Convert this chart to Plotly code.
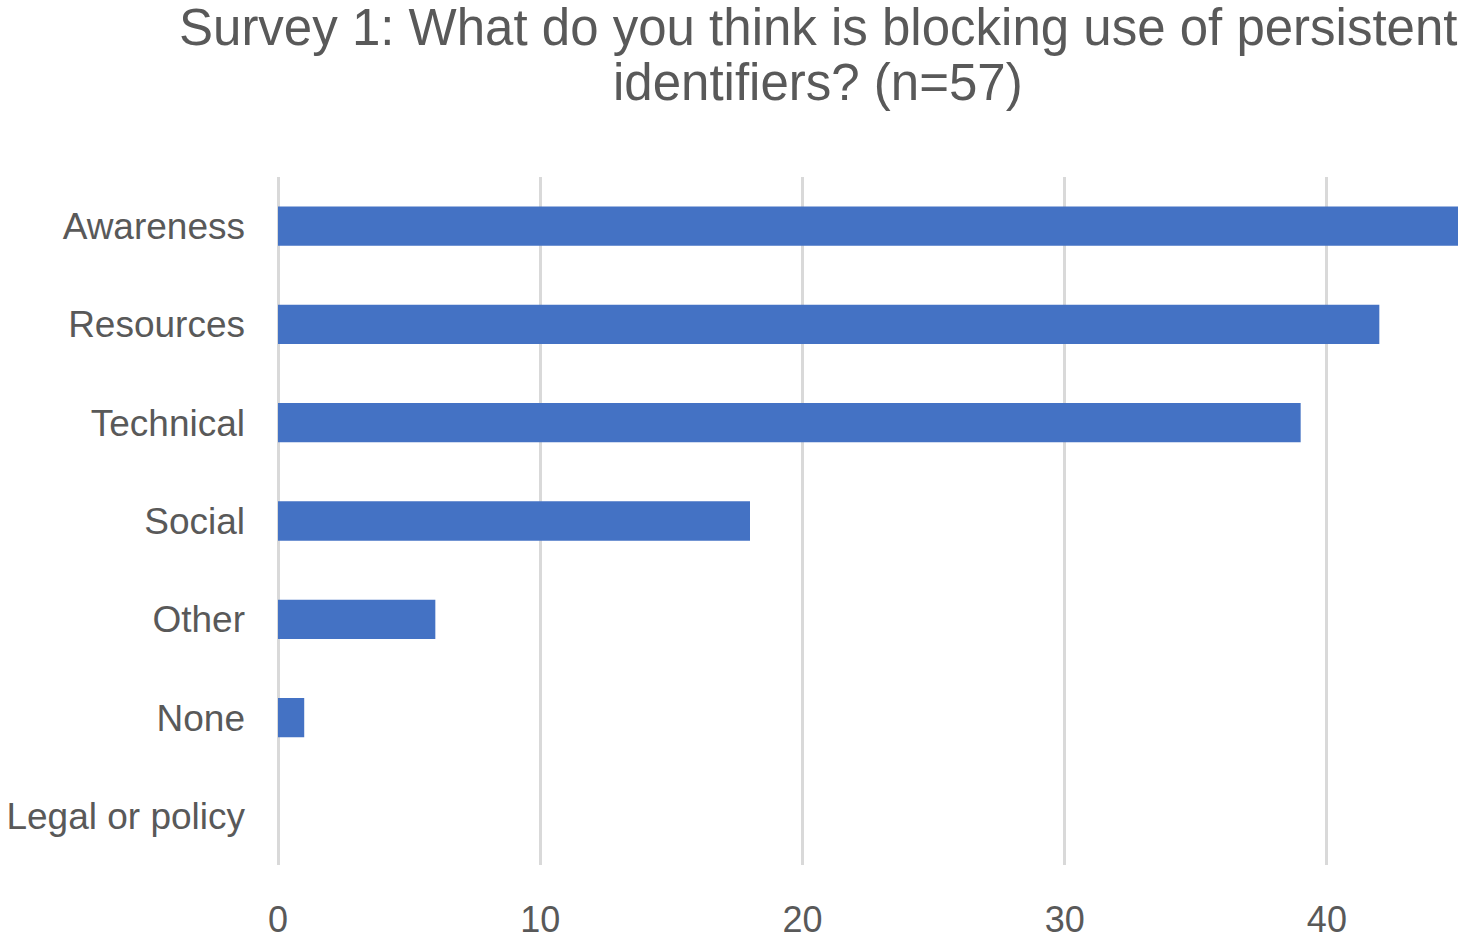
import plotly.graph_objects as go

categories = ["Awareness", "Resources", "Technical", "Social", "Other", "None", "Legal or policy"]
counts = [45, 42, 39, 18, 6, 1, 0]
x_ticks = [0, 10, 20, 30, 40]
title_lines = [
    "Survey 1: What do you think is blocking use of persistent",
    "identifiers? (n=57)",
]

label_color = "#595959"
grid_color = "#d9d9d9"

fig = go.Figure(
    go.Bar(
        x=counts,
        y=categories,
        orientation="h",
        marker=dict(color="#4472C4", line=dict(width=0)),
        width=0.4,
    )
)

# Two-line title, each line as its own paper-anchored annotation
for line, ypos in zip(title_lines, [1.218, 1.137]):
    fig.add_annotation(
        text=line,
        xref="paper",
        yref="paper",
        x=(818 - 278) / 1180,
        y=ypos,
        xanchor="center",
        yanchor="middle",
        showarrow=False,
        font=dict(family="Liberation Sans, Arial, sans-serif", size=51, color=label_color),
    )

fig.update_layout(
    width=1468,
    height=939,
    paper_bgcolor="white",
    plot_bgcolor="white",
    margin=dict(l=278, r=10, t=177, b=74),
    showlegend=False,
    font=dict(family="Liberation Sans, Arial, sans-serif", color=label_color),
)

fig.update_xaxes(
    range=[0, 45],
    tickvals=x_ticks,
    showgrid=True,
    gridcolor=grid_color,
    gridwidth=2.5,
    zeroline=True,
    zerolinecolor=grid_color,
    zerolinewidth=2.5,
    showline=False,
    ticks="",
    automargin=False,
    ticklabelstandoff=30,
    tickfont=dict(size=36, color=label_color),
)

fig.update_yaxes(
    categoryorder="array",
    categoryarray=categories[::-1],
    showgrid=False,
    showline=False,
    ticks="",
    automargin=False,
    ticklabelstandoff=32,
    tickfont=dict(size=37, color=label_color),
)

fig.write_html("out.html")
